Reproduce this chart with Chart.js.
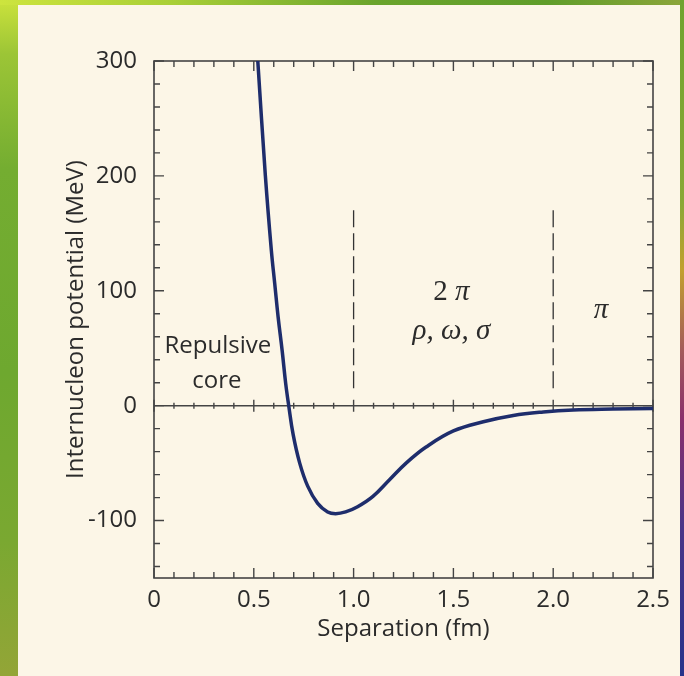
<!DOCTYPE html>
<html>
<head>
<meta charset="utf-8">
<script src="https://cdn.jsdelivr.net/npm/chart.js@4"></script>
<style>
html, body { margin: 0; padding: 0; }
body {
    width: 684px; height: 676px; overflow: hidden; position: relative;
    background: linear-gradient(to bottom, #cbe23c 0%, #9cc536 8%, #74ad31 25%, #6ea82f 55%, #7aa831 80%, #93a537 100%);
}
.top-strip { position: absolute; left: 0; top: 0; width: 684px; height: 5px;
    background: linear-gradient(to right, #cde43e 0%, #a9cf37 25%, #6aa42c 55%, #5f9d2a 80%, #8ca53a 100%); }
.right-strip { position: absolute; left: 680px; top: 0; width: 4px; height: 676px;
    background: linear-gradient(to bottom, #6ea32e 0%, #8aa836 30%, #c2a02e 40%, #a35a5a 52%, #8a2f6c 62%, #4a3488 78%, #27338a 100%); }
.panel { position: absolute; left: 18px; top: 5px; width: 662px; height: 671px; background: #fcf6e7; }
#wrap { position: absolute; left: 0; top: 0; width: 684px; height: 676px; }
</style>
</head>
<body>
<div class="top-strip"></div>
<div class="right-strip"></div>
<div class="panel"></div>
<div id="wrap"><canvas id="potentialChart"></canvas></div>
<script>
// DATA
const separation = [0.52, 0.558, 0.588, 0.605, 0.622, 0.642, 0.66, 0.675, 0.697, 0.73, 0.77, 0.82, 0.87, 0.91,
                    0.96, 1.02, 1.097, 1.18, 1.263, 1.363, 1.5, 1.65, 1.8, 1.95, 2.1, 2.3, 2.5];
const potential  = [300, 200, 135, 106, 77, 48, 19, 0, -25, -50, -70, -85, -92.5, -94,
                    -92.5, -88, -79, -64.5, -50, -36, -22, -14, -8.5, -5.5, -3.8, -3, -2.5];

// region boundaries (dashed lines)
const dividerX = [1.0, 2.0];
const dividerRange = [170, 12];

// axis ticks
const xLabelTicks = [0, 0.5, 1.0, 1.5, 2.0, 2.5];
const yLabelTicks = [-100, 0, 100, 200, 300];
const xMinorStep = 0.1;
const yMinorStep = 20;

const INK = "#2b2b2b";
const FRAME = "#444";
const CURVE = "#1e2d6c";

function isLabelTick(list, v) {
    return list.some(t => Math.abs(t - v) < 1e-6);
}

// TEXT IN THE PLOT (anchored in data units)
const notes = [
    { runs: [["Repulsive", "normal"]], x: 0.32, y: 46, font: "24px 'Open Sans'" },
    { runs: [["core", "normal"]], x: 0.315, y: 15, font: "24px 'Open Sans'" },
    { runs: [["2 ", "normal"], ["\u03c0", "italic"]], x: 1.49, y: 91.6, serif: true },
    { runs: [["\u03c1, \u03c9, \u03c3", "italic"]], x: 1.49, y: 58, serif: true },
    { runs: [["\u03c0", "italic"]], x: 2.24, y: 76, serif: true }
];

// frame, inward ticks, ticks on zero line
const framePlugin = {
    id: "frame",
    beforeDatasetsDraw(chart) {
        const { ctx, chartArea: a, scales: { x, y } } = chart;
        ctx.save();
        ctx.strokeStyle = FRAME;
        ctx.lineWidth = 1.6;
        ctx.strokeRect(a.left, a.top, a.right - a.left, a.bottom - a.top);

        ctx.lineWidth = 1.4;
        ctx.beginPath();
        const y0 = y.getPixelForValue(0);
        x.ticks.forEach(t => {
            const px = x.getPixelForValue(t.value);
            const major = isLabelTick(xLabelTicks, t.value);
            const len = major ? 10 : 6;
            ctx.moveTo(px, a.bottom); ctx.lineTo(px, a.bottom - len);
            ctx.moveTo(px, a.top); ctx.lineTo(px, a.top + len);
            ctx.moveTo(px, y0 - (major ? 6 : 3)); ctx.lineTo(px, y0 + (major ? 6 : 3));
        });
        y.ticks.forEach(t => {
            const py = y.getPixelForValue(t.value);
            const len = isLabelTick(yLabelTicks, t.value) ? 10 : 6;
            ctx.moveTo(a.left, py); ctx.lineTo(a.left + len, py);
            ctx.moveTo(a.right, py); ctx.lineTo(a.right - len, py);
        });
        ctx.stroke();
        ctx.restore();
    },
    afterDatasetsDraw(chart) {
        const { ctx, scales: { x, y } } = chart;
        ctx.save();
        ctx.fillStyle = INK;
        ctx.textBaseline = "alphabetic";
        ctx.textAlign = "left";
        notes.forEach(n => {
            const fonts = n.runs.map(r => n.serif
                ? r[1] + " 29px 'Liberation Serif'"
                : n.font);
            let total = 0;
            n.runs.forEach((r, i) => { ctx.font = fonts[i]; total += ctx.measureText(r[0]).width; });
            let px = x.getPixelForValue(n.x) - total / 2;
            const py = y.getPixelForValue(n.y);
            n.runs.forEach((r, i) => {
                ctx.font = fonts[i];
                ctx.fillText(r[0], px, py);
                px += ctx.measureText(r[0]).width;
            });
        });
        ctx.restore();
    }
};

const curvePoints = separation.map((s, i) => ({ x: s, y: potential[i] }));

const dividerSets = dividerX.map(d => ({
    data: [{ x: d, y: dividerRange[0] }, { x: d, y: dividerRange[1] }],
    borderColor: "#333",
    borderWidth: 1.3,
    borderDash: [17, 6],
    pointRadius: 0,
    order: 3
}));

const ctx = document.getElementById("potentialChart").getContext("2d");
new Chart(ctx, {
    type: "line",
    data: {
        datasets: [
            {
                data: [{ x: 0, y: 0 }, { x: 2.5, y: 0 }],
                borderColor: FRAME,
                borderWidth: 1.5,
                pointRadius: 0,
                order: 2
            },
            ...dividerSets,
            {
                data: curvePoints,
                borderColor: CURVE,
                borderWidth: 3.5,
                pointRadius: 0,
                tension: 0.4,
                order: 1
            }
        ]
    },
    options: {
        responsive: true,
        maintainAspectRatio: false,
        animation: false,
        layout: { padding: { left: 0, top: 61, right: 31, bottom: 0 } },
        plugins: {
            legend: { display: false },
            tooltip: { enabled: false }
        },
        scales: {
            x: {
                type: "linear",
                min: 0,
                max: 2.5,
                afterBuildTicks(scale) {
                    const ticks = [];
                    for (let v = 0; v <= 2.5 + 1e-9; v += xMinorStep) ticks.push({ value: Math.round(v * 10) / 10 });
                    scale.ticks = ticks;
                },
                afterFit(scale) { scale.height = 98; },
                grid: { display: false },
                border: { display: false },
                ticks: {
                    autoSkip: false,
                    maxRotation: 0,
                    padding: 0,
                    color: INK,
                    font: { family: "'Open Sans'", size: 24 },
                    callback: v => isLabelTick(xLabelTicks, v) ? (v === 0 ? "0" : v.toFixed(1)) : ""
                },
                title: {
                    display: true,
                    text: "Separation (fm)",
                    color: INK,
                    font: { family: "'Open Sans'", size: 24 },
                    padding: { top: 0, bottom: 32 }
                }
            },
            y: {
                type: "linear",
                min: -150,
                max: 300,
                afterBuildTicks(scale) {
                    const ticks = [];
                    for (let v = -140; v <= 300; v += yMinorStep) ticks.push({ value: v });
                    scale.ticks = ticks;
                },
                afterFit(scale) { scale.width = 154; },
                grid: { display: false },
                border: { display: false },
                ticks: {
                    autoSkip: false,
                    padding: 9,
                    color: INK,
                    font: { family: "'Open Sans'", size: 24 },
                    callback: v => isLabelTick(yLabelTicks, v) ? String(v) : ""
                },
                title: {
                    display: true,
                    text: "Internucleon potential (MeV)",
                    color: INK,
                    font: { family: "'Open Sans'", size: 24 },
                    padding: { top: 62, bottom: 0 }
                }
            }
        }
    },
    plugins: [framePlugin]
});
</script>
</body>
</html>
